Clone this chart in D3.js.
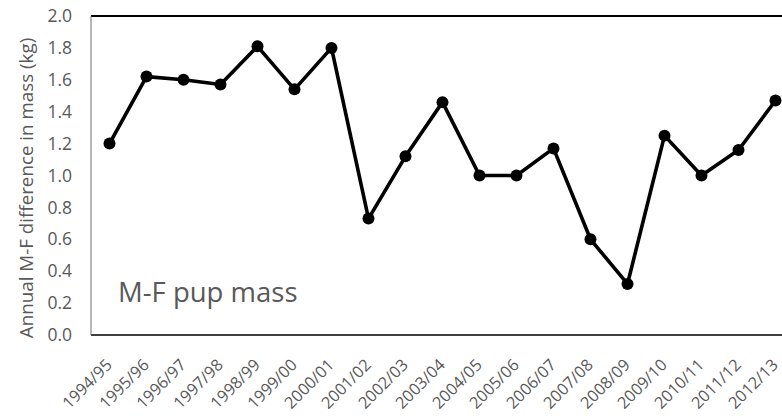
<!DOCTYPE html>
<html>
<head>
<meta charset="utf-8">
<script src="https://cdn.jsdelivr.net/npm/d3@7"></script>
<style>
  html, body { margin: 0; padding: 0; background: #fff; }
  svg { display: block; font-family: "Open Sans", "Liberation Sans", sans-serif; }
</style>
</head>
<body>
<svg id="chart" width="782" height="416"></svg>
<script>
// Breeding seasons and the male-minus-female pup mass difference (kg)
const seasons = ["1994/95","1995/96","1996/97","1997/98","1998/99","1999/00","2000/01",
  "2001/02","2002/03","2003/04","2004/05","2005/06","2006/07","2007/08","2008/09",
  "2009/10","2010/11","2011/12","2012/13"];
const massDiff = [1.20, 1.62, 1.60, 1.57, 1.81, 1.54, 1.80, 0.73, 1.12, 1.46,
  1.00, 1.00, 1.17, 0.60, 0.32, 1.25, 1.00, 1.16, 1.47];
const yTicks = [0, 0.2, 0.4, 0.6, 0.8, 1.0, 1.2, 1.4, 1.6, 1.8, 2.0];
const yTitle = "Annual M-F difference in mass (kg)";
const seriesLabel = "M-F pup mass";

const svg = d3.select("#chart");
const plot = { left: 91, top: 16, bottom: 335, step: 37 };
const textGrey = "#595959";

const x = d3.scalePoint()
  .domain(seasons)
  .range([plot.left + plot.step / 2, plot.left + plot.step * (seasons.length - 0.5)]);
const y = d3.scaleLinear().domain([0, 2]).range([plot.bottom, plot.top]);
const plotRight = plot.left + plot.step * seasons.length;

// Plot area frame
svg.append("line").attr("x1", plot.left).attr("x2", plotRight)
  .attr("y1", plot.top).attr("y2", plot.top)
  .attr("stroke", "#000").attr("stroke-width", 2.2);
svg.append("line").attr("x1", plot.left).attr("x2", plotRight)
  .attr("y1", plot.bottom).attr("y2", plot.bottom)
  .attr("stroke", "#000").attr("stroke-width", 1.6);
svg.append("line").attr("x1", plot.left).attr("x2", plot.left)
  .attr("y1", plot.top).attr("y2", plot.bottom)
  .attr("stroke", "#6e6e6e").attr("stroke-width", 1);

// Y axis labels
const yAxis = d3.axisLeft(y).tickValues(yTicks).tickFormat(d3.format(".1f"))
  .tickSize(0).tickPadding(19);
const gy = svg.append("g").attr("transform", `translate(${plot.left},0)`).call(yAxis);
gy.select(".domain").remove();
gy.selectAll("text").attr("fill", textGrey).attr("font-size", 17.5)
  .attr("font-family", "'Open Sans', sans-serif");

// X axis labels, rotated
const gx = svg.append("g");
gx.selectAll("text").data(seasons).join("text")
  .attr("transform", d => `translate(${x(d) + 3.5},${plot.bottom + 31}) rotate(-45)`)
  .attr("text-anchor", "end")
  .attr("fill", textGrey)
  .attr("font-size", 16.3)
  .text(d => d);

// Y axis title
svg.append("text")
  .attr("transform", `translate(33,188) rotate(-90)`)
  .attr("text-anchor", "middle")
  .attr("fill", textGrey)
  .attr("font-size", 18.8)
  .text(yTitle);

// Series line and markers
const line = d3.line().x((d, i) => x(seasons[i])).y(d => y(d));
svg.append("path").datum(massDiff)
  .attr("d", line).attr("fill", "none")
  .attr("stroke", "#000").attr("stroke-width", 3.6).attr("stroke-linejoin", "round");
svg.append("g").selectAll("circle").data(massDiff).join("circle")
  .attr("cx", (d, i) => x(seasons[i]))
  .attr("cy", d => y(d))
  .attr("r", 6)
  .attr("fill", "#000");

// Series label inside the plot
svg.append("text")
  .attr("x", 118).attr("y", 302)
  .attr("fill", textGrey)
  .attr("font-size", 27.5)
  .text(seriesLabel);
</script>
</body>
</html>
